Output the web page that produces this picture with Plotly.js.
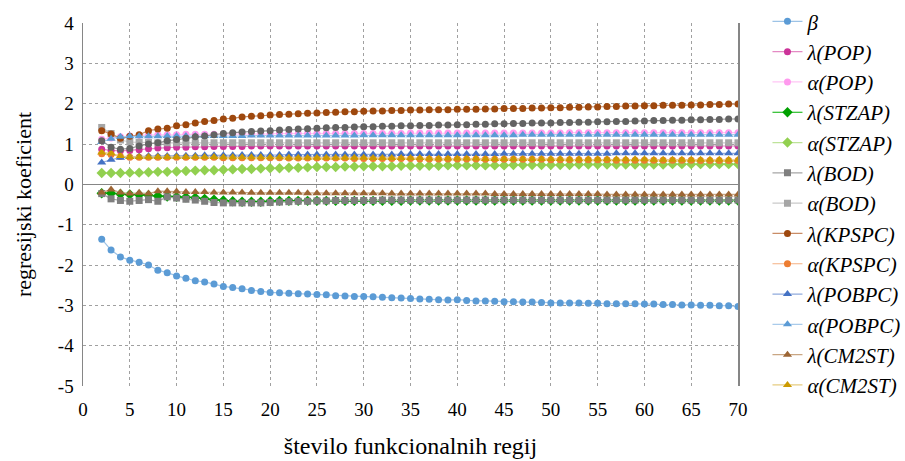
<!DOCTYPE html>
<html>
<head>
<meta charset="utf-8">
<script src="https://cdn.plot.ly/plotly-3.0.1.min.js"></script>
<style>html,body{margin:0;padding:0;background:#fff;}#chart{width:905px;height:461px;}</style>
</head>
<body>
<div id="chart"></div>
<script>
// x = number of functional regions (2..70)
const regije = [2,3,4,5,6,7,8,9,10,11,12,13,14,15,16,17,18,19,20,21,22,23,24,25,26,27,28,29,30,31,32,33,34,35,36,37,38,39,40,41,42,43,44,45,46,47,48,49,50,51,52,53,54,55,56,57,58,59,60,61,62,63,64,65,66,67,68,69,70];

const beta = [-1.36,-1.63,-1.80,-1.88,-1.93,-2.00,-2.13,-2.19,-2.27,-2.33,
  -2.39,-2.42,-2.47,-2.53,-2.56,-2.59,-2.63,-2.66,-2.68,-2.69,
  -2.70,-2.71,-2.72,-2.73,-2.74,-2.76,-2.77,-2.78,-2.78,-2.79,
  -2.80,-2.81,-2.82,-2.83,-2.84,-2.85,-2.86,-2.87,-2.86,-2.88,
  -2.89,-2.89,-2.90,-2.91,-2.91,-2.92,-2.92,-2.93,-2.94,-2.94,
  -2.94,-2.94,-2.95,-2.95,-2.96,-2.96,-2.96,-2.96,-2.97,-2.97,
  -2.98,-2.98,-2.99,-2.99,-3.00,-3.00,-3.01,-3.01,-3.03];

const lambdaPOP = [0.87,0.84,0.83,0.84,0.86,0.88,0.90,0.91,0.92,0.92,
  0.93,0.93,0.94,0.94,0.94,0.94,0.95,0.95,0.95,0.95,
  0.95,0.95,0.95,0.95,0.95,0.95,0.95,0.95,0.95,0.95,
  0.95,0.95,0.95,0.95,0.95,0.95,0.95,0.95,0.95,0.95,
  0.95,0.95,0.95,0.95,0.95,0.95,0.95,0.95,0.95,0.95,
  0.95,0.95,0.95,0.95,0.95,0.95,0.95,0.95,0.95,0.95,
  0.95,0.95,0.95,0.95,0.95,0.95,0.95,0.95,0.95];

const alphaPOP = [1.12,1.15,1.18,1.20,1.22,1.22,1.23,1.23,1.23,1.24,
  1.24,1.24,1.24,1.25,1.25,1.25,1.25,1.25,1.25,1.26,
  1.26,1.26,1.26,1.26,1.26,1.26,1.26,1.26,1.26,1.26,
  1.26,1.26,1.26,1.27,1.27,1.27,1.27,1.27,1.27,1.27,
  1.27,1.27,1.27,1.27,1.27,1.27,1.27,1.27,1.27,1.27,
  1.28,1.28,1.28,1.28,1.28,1.28,1.28,1.28,1.28,1.28,
  1.28,1.28,1.28,1.28,1.28,1.28,1.28,1.28,1.28];

const lambdaSTZAP = [-0.22,-0.22,-0.24,-0.25,-0.26,-0.27,-0.29,-0.30,-0.31,-0.32,
  -0.33,-0.36,-0.38,-0.40,-0.42,-0.43,-0.43,-0.43,-0.42,-0.41,
  -0.41,-0.41,-0.41,-0.41,-0.41,-0.41,-0.41,-0.41,-0.41,-0.41,
  -0.41,-0.41,-0.41,-0.40,-0.40,-0.40,-0.40,-0.40,-0.40,-0.40,
  -0.40,-0.40,-0.40,-0.40,-0.40,-0.40,-0.40,-0.40,-0.40,-0.40,
  -0.40,-0.40,-0.40,-0.40,-0.40,-0.40,-0.40,-0.40,-0.40,-0.40,
  -0.40,-0.40,-0.40,-0.40,-0.40,-0.40,-0.40,-0.40,-0.40];

const alphaSTZAP = [0.28,0.28,0.28,0.29,0.29,0.30,0.31,0.31,0.32,0.33,
  0.34,0.35,0.35,0.36,0.37,0.38,0.38,0.39,0.40,0.40,
  0.41,0.41,0.42,0.43,0.43,0.43,0.44,0.44,0.45,0.45,
  0.45,0.45,0.46,0.46,0.46,0.46,0.46,0.47,0.47,0.47,
  0.47,0.47,0.47,0.47,0.48,0.48,0.48,0.48,0.48,0.48,
  0.48,0.49,0.49,0.49,0.49,0.49,0.49,0.49,0.49,0.49,
  0.49,0.50,0.50,0.50,0.50,0.50,0.50,0.50,0.50];

const lambdaBOD = [-0.23,-0.36,-0.40,-0.42,-0.40,-0.38,-0.42,-0.31,-0.34,-0.37,
  -0.39,-0.42,-0.45,-0.46,-0.46,-0.46,-0.46,-0.46,-0.45,-0.44,
  -0.43,-0.42,-0.42,-0.41,-0.41,-0.40,-0.40,-0.40,-0.40,-0.40,
  -0.39,-0.39,-0.39,-0.39,-0.39,-0.39,-0.39,-0.39,-0.39,-0.39,
  -0.39,-0.39,-0.39,-0.39,-0.39,-0.39,-0.39,-0.39,-0.39,-0.39,
  -0.39,-0.39,-0.39,-0.39,-0.39,-0.39,-0.39,-0.39,-0.39,-0.39,
  -0.39,-0.39,-0.39,-0.39,-0.39,-0.39,-0.39,-0.39,-0.39];

const alphaBOD = [1.41,1.26,1.10,1.05,1.04,1.04,1.03,1.03,1.03,1.03,
  1.03,1.03,1.03,1.03,1.03,1.03,1.03,1.03,1.03,1.03,
  1.03,1.03,1.03,1.03,1.03,1.03,1.03,1.03,1.03,1.03,
  1.03,1.03,1.03,1.03,1.03,1.03,1.03,1.03,1.03,1.03,
  1.03,1.03,1.03,1.03,1.03,1.03,1.03,1.03,1.03,1.03,
  1.03,1.03,1.03,1.03,1.03,1.03,1.03,1.03,1.03,1.03,
  1.03,1.03,1.03,1.03,1.03,1.03,1.03,1.03,1.03];

const lambdaKPSPC = [1.33,1.25,1.14,1.19,1.23,1.33,1.37,1.39,1.45,1.48,
  1.52,1.56,1.58,1.62,1.64,1.67,1.69,1.70,1.72,1.73,
  1.74,1.75,1.76,1.77,1.78,1.79,1.80,1.80,1.81,1.82,
  1.82,1.83,1.83,1.84,1.84,1.85,1.85,1.85,1.86,1.86,
  1.86,1.87,1.87,1.88,1.88,1.88,1.89,1.89,1.90,1.90,
  1.91,1.91,1.92,1.92,1.93,1.93,1.94,1.94,1.95,1.95,
  1.96,1.96,1.96,1.97,1.97,1.98,1.98,1.99,1.99];

const alphaKPSPC = [0.76,0.74,0.69,0.67,0.67,0.67,0.67,0.67,0.67,0.67,
  0.67,0.67,0.67,0.66,0.66,0.66,0.66,0.66,0.66,0.66,
  0.65,0.65,0.65,0.65,0.65,0.65,0.65,0.64,0.64,0.64,
  0.64,0.64,0.64,0.64,0.63,0.63,0.63,0.63,0.63,0.63,
  0.63,0.62,0.62,0.62,0.62,0.62,0.62,0.62,0.61,0.61,
  0.61,0.61,0.61,0.61,0.61,0.60,0.60,0.60,0.60,0.60,
  0.60,0.60,0.60,0.60,0.59,0.59,0.59,0.59,0.59];

const lambdaPOBPC = [0.54,0.61,0.66,0.68,0.69,0.70,0.70,0.70,0.71,0.71,
  0.71,0.72,0.72,0.72,0.72,0.73,0.73,0.73,0.73,0.73,
  0.74,0.74,0.74,0.74,0.74,0.74,0.74,0.74,0.74,0.74,
  0.74,0.74,0.75,0.75,0.75,0.75,0.75,0.75,0.75,0.75,
  0.75,0.75,0.75,0.76,0.76,0.76,0.76,0.76,0.76,0.76,
  0.76,0.76,0.76,0.76,0.76,0.77,0.77,0.77,0.77,0.77,
  0.77,0.77,0.77,0.77,0.77,0.77,0.77,0.77,0.77];

const alphaPOBPC = [1.05,1.13,1.18,1.19,1.19,1.19,1.19,1.20,1.20,1.20,
  1.20,1.20,1.20,1.20,1.20,1.20,1.21,1.21,1.21,1.21,
  1.21,1.21,1.21,1.21,1.21,1.21,1.21,1.21,1.22,1.22,
  1.22,1.22,1.22,1.22,1.22,1.22,1.22,1.22,1.22,1.22,
  1.22,1.22,1.22,1.22,1.22,1.23,1.23,1.23,1.23,1.23,
  1.23,1.23,1.23,1.23,1.23,1.23,1.23,1.23,1.23,1.23,
  1.23,1.23,1.23,1.23,1.23,1.23,1.23,1.23,1.23];

const lambdaCM2ST = [-0.20,-0.13,-0.20,-0.23,-0.21,-0.23,-0.17,-0.17,-0.18,-0.19,
  -0.19,-0.19,-0.20,-0.20,-0.20,-0.20,-0.21,-0.21,-0.21,-0.21,
  -0.21,-0.21,-0.22,-0.22,-0.22,-0.22,-0.22,-0.22,-0.22,-0.22,
  -0.22,-0.23,-0.23,-0.23,-0.23,-0.23,-0.23,-0.23,-0.23,-0.23,
  -0.23,-0.23,-0.24,-0.24,-0.24,-0.24,-0.24,-0.24,-0.24,-0.24,
  -0.24,-0.24,-0.24,-0.24,-0.25,-0.25,-0.25,-0.25,-0.25,-0.25,
  -0.25,-0.25,-0.25,-0.25,-0.25,-0.25,-0.25,-0.25,-0.25];

const alphaCM2ST = [0.79,0.77,0.70,0.68,0.68,0.68,0.68,0.68,0.68,0.68,
  0.68,0.68,0.68,0.67,0.67,0.67,0.67,0.67,0.67,0.67,
  0.66,0.66,0.66,0.66,0.66,0.66,0.66,0.66,0.66,0.65,
  0.65,0.65,0.65,0.65,0.65,0.64,0.64,0.64,0.64,0.64,
  0.64,0.63,0.63,0.63,0.63,0.63,0.63,0.63,0.63,0.63,
  0.62,0.62,0.62,0.62,0.62,0.62,0.62,0.62,0.62,0.61,
  0.61,0.61,0.61,0.61,0.61,0.61,0.61,0.61,0.61];

// extra series drawn in the chart but absent from its legend (dark grey circles)
const dodatnaSerija = [1.08,0.92,0.87,0.89,0.95,1.00,1.03,1.08,1.11,1.14,
  1.18,1.20,1.23,1.26,1.28,1.30,1.31,1.32,1.33,1.35,
  1.36,1.37,1.38,1.39,1.40,1.41,1.41,1.42,1.43,1.43,
  1.44,1.44,1.45,1.45,1.46,1.46,1.47,1.47,1.48,1.48,
  1.49,1.49,1.50,1.50,1.51,1.51,1.52,1.52,1.52,1.53,
  1.53,1.54,1.54,1.55,1.55,1.56,1.56,1.57,1.57,1.58,
  1.58,1.59,1.59,1.60,1.60,1.61,1.61,1.62,1.62];

const xTicks = [0,5,10,15,20,25,30,35,40,45,50,55,60,65,70];
const yTicks = [4,3,2,1,0,-1,-2,-3,-4,-5];
const yTickText = ['4','3','2','1','0','-1','-2','-3','-4','-5'];

const seriesDefs = [
  {name:'β', y:beta, sym:'circle', mc:'#5B9BD5', lc:'#9DC3E6', ms:7},
  {name:'λ(POP)', y:lambdaPOP, sym:'circle', mc:'#CC3399', lc:'#E48AC4', ms:7},
  {name:'α(POP)', y:alphaPOP, sym:'circle', mc:'#FF99EE', lc:'#FFC6F5', ms:7},
  {name:'λ(STZAP)', y:lambdaSTZAP, sym:'diamond', mc:'#00A000', lc:'#00B000', ms:8},
  {name:'α(STZAP)', y:alphaSTZAP, sym:'diamond', mc:'#92D050', lc:'#BEE39A', ms:8},
  {name:'λ(BOD)', y:lambdaBOD, sym:'square', mc:'#7F7F7F', lc:'#A6A6A6', ms:7},
  {name:'α(BOD)', y:alphaBOD, sym:'square', mc:'#A6A6A6', lc:'#CACACA', ms:7},
  {name:'λ(KPSPC)', y:lambdaKPSPC, sym:'circle', mc:'#9E480E', lc:'#C98C66', ms:7},
  {name:'α(KPSPC)', y:alphaKPSPC, sym:'circle', mc:'#ED7D31', lc:'#F4B183', ms:7},
  {name:'λ(POBPC)', y:lambdaPOBPC, sym:'triangle-up', mc:'#4472C4', lc:'#8FAADC', ms:8},
  {name:'α(POBPC)', y:alphaPOBPC, sym:'triangle-up', mc:'#5B9BD5', lc:'#A9CBEB', ms:8},
  {name:'λ(CM2ST)', y:lambdaCM2ST, sym:'triangle-up', mc:'#9C6534', lc:'#C9A683', ms:8},
  {name:'α(CM2ST)', y:alphaCM2ST, sym:'triangle-up', mc:'#CC9A00', lc:'#E6CC80', ms:8}
];

const traces = seriesDefs.map(s => ({
  type:'scatter', mode:'lines+markers', name:s.name, x:regije, y:s.y,
  line:{color:s.lc, width:1.2},
  marker:{symbol:s.sym, color:s.mc, size:s.ms, line:{width:0}},
  hoverinfo:'skip'
}));
traces.push({
  type:'scatter', mode:'lines+markers', name:'', x:regije, y:dodatnaSerija,
  showlegend:false,
  line:{color:'#8E8E8E', width:1.2},
  marker:{symbol:'circle', color:'#636363', size:7},
  hoverinfo:'skip'
});

const serif = "'Liberation Serif', 'Times New Roman', 'DejaVu Serif', serif";
const layout = {
  width:905, height:461,
  font:{family:serif, color:'#000'},
  margin:{l:83, r:167, t:23, b:75, pad:0, autoexpand:false},
  paper_bgcolor:'#ffffff', plot_bgcolor:'#ffffff',
  showlegend:true,
  legend:{
    x:1.045, xanchor:'left', y:1.06, yanchor:'top',
    font:{family:serif, size:21, color:'#000', style:'italic'},
    bgcolor:'rgba(0,0,0,0)', borderwidth:0, tracegroupgap:0, itemwidth:30,
    maxheight:461
  },
  xaxis:{
    range:[0,70], tickvals:xTicks, ticktext:xTicks.map(String),
    showgrid:true, gridcolor:'#A0A0A0', gridwidth:1, griddash:'3px,3px',
    zeroline:false, showline:false, ticks:'', ticklabelstandoff:10,
    tickfont:{family:serif, size:19, color:'#000'},
    title:{text:'število funkcionalnih regij', font:{family:serif, size:24, color:'#000'}, standoff:18},
    automargin:false, fixedrange:true
  },
  yaxis:{
    range:[-5,4], tickvals:yTicks, ticktext:yTickText,
    showgrid:true, gridcolor:'#A0A0A0', gridwidth:1, griddash:'3px,3px',
    zeroline:true, zerolinecolor:'#868686', zerolinewidth:1.5,
    showline:true, linecolor:'#868686', linewidth:1.5, mirror:true, ticks:'',
    ticklabelstandoff:4,
    tickfont:{family:serif, size:19, color:'#000'},
    title:{text:'regresijski koeficient', font:{family:serif, size:22, color:'#000'}, standoff:20},
    automargin:false, fixedrange:true
  },
  hovermode:false
};

Plotly.newPlot('chart', traces, layout, {displayModeBar:false, staticPlot:true});
</script>
</body>
</html>
